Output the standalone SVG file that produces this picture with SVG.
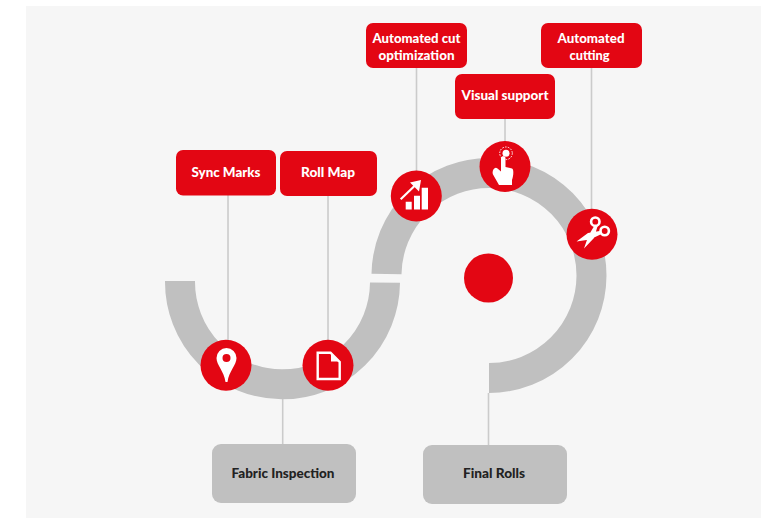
<svg xmlns="http://www.w3.org/2000/svg" width="761" height="518" viewBox="0 0 761 518">
<style>
.lead{stroke:#cbcbcb;stroke-width:1.6;fill:none}
.band{stroke:#c0c0c0;stroke-width:30;fill:none}
.red{fill:#e30613}
.grey{fill:#c0c0c0}
.lab{font-family:"Lato","Liberation Sans",sans-serif;font-weight:900;font-size:12.5px;text-anchor:middle}
.w{fill:#fff}
.k{fill:#222}
.ic{fill:#fff}
.ol{fill:none;stroke:#fff}
</style>
<rect width="761" height="518" fill="#fff"/>
<rect x="26" y="6" width="735" height="512" fill="#f6f6f6"/>
<g id="connectors">
<path class="lead" d="M228 195V345M328 196V345M416.5 68V175M505 119V145M591.5 68V215M282.7 397V444M488.5 393V445"/>
</g>
<g id="track">
<path class="band" d="M180 281A102.500 102.500 0 0 0 385 282.700"/>
<path class="band" d="M386.500 274A102.500 102.500 0 1 1 489 378"/>
</g>
<g id="center"><circle class="red" cx="488.500" cy="278" r="24.500"/></g>
<g id="sync-marks">
<rect class="red" x="176" y="150" width="100" height="45.500" rx="7"/>
<text class="lab w" x="226" y="177" textLength="69" lengthAdjust="spacingAndGlyphs">Sync Marks</text>
<circle class="red" cx="226" cy="365.300" r="25.500"/>
<path class="ic" fill-rule="evenodd" d="M226.500 348A10 10 0 0 1 236.500 358C236.500 365 229 371 227.500 382H225.500C224 371 216.500 365 216.500 358A10 10 0 0 1 226.500 348ZM226.500 354A4 4 0 1 0 226.500 362A4 4 0 1 0 226.500 354Z"/>
</g>
<g id="roll-map">
<rect class="red" x="280" y="151" width="97" height="45" rx="7"/>
<text class="lab w" x="328" y="177" textLength="54" lengthAdjust="spacingAndGlyphs">Roll Map</text>
<circle class="red" cx="328" cy="365.300" r="25.500"/>
<path class="ol" stroke-width="2.400" d="M317.700 352.700H330.500L339.700 362V379H317.700Z"/>
<path class="ic" d="M331 352.500L340 361.500H331Z"/>
</g>
<g id="automated-cut-optimization">
<rect class="red" x="366" y="23" width="101" height="45" rx="7"/>
<text class="lab w" x="416.500" y="43" textLength="88" lengthAdjust="spacingAndGlyphs">Automated cut</text>
<text class="lab w" x="416.500" y="59.500" textLength="76" lengthAdjust="spacingAndGlyphs">optimization</text>
<circle class="red" cx="416.300" cy="196" r="25.500"/>
<path class="ic" d="M405.700 201.700H411.700V209.500H405.700ZM414 195.700H420V209.500H414ZM421.700 187.700H428V209.500H421.700Z"/>
<path class="ol" stroke-width="2.200" d="M400.700 199.300L416 184.500"/>
<path class="ic" d="M410 182.500L421 180L419 191.500Z"/>
</g>
<g id="visual-support">
<rect class="red" x="455" y="74" width="100" height="45" rx="7"/>
<text class="lab w" x="505" y="100" textLength="87" lengthAdjust="spacingAndGlyphs">Visual support</text>
<circle class="red" cx="505" cy="166.500" r="25.500"/>
<circle class="ol" cx="506" cy="153.300" r="6.300" stroke-width="1" stroke-dasharray="1.500 1.300"/>
<circle class="ic" cx="506" cy="153.300" r="3.500"/>
<path class="ic" d="M501 158C501 155.500 505.500 155.500 505.500 158V167L512 168.500C514 169 513.500 176 512 180V185H499L493 174.500C491.500 171 494.500 166 497.500 168.500L501 171.500Z"/>
</g>
<g id="automated-cutting">
<rect class="red" x="541" y="23" width="101" height="45" rx="7"/>
<text class="lab w" x="591" y="43" textLength="67" lengthAdjust="spacingAndGlyphs">Automated</text>
<text class="lab w" x="589.500" y="59.500" textLength="40" lengthAdjust="spacingAndGlyphs">cutting</text>
<circle class="red" cx="592" cy="234.300" r="25.500"/>
<circle class="ol" cx="595.300" cy="221.700" r="4.200" stroke-width="2.600"/>
<circle class="ol" cx="604.700" cy="231" r="4.200" stroke-width="2.600"/>
<path class="ic" d="M594.500 225.500L598 224.800L594 238L584 248.500L588.500 235.500ZM601 230.800L601.500 234L590 239.500L576.500 241.500L588 233Z"/>
</g>
<g id="fabric-inspection">
<rect class="grey" x="212" y="444" width="144" height="59" rx="9"/>
<text class="lab k" x="283" y="477.500" textLength="103" lengthAdjust="spacingAndGlyphs">Fabric Inspection</text>
</g>
<g id="final-rolls">
<rect class="grey" x="423" y="445" width="144" height="59" rx="9"/>
<text class="lab k" x="494" y="477.500" textLength="62" lengthAdjust="spacingAndGlyphs">Final Rolls</text>
</g>
</svg>
